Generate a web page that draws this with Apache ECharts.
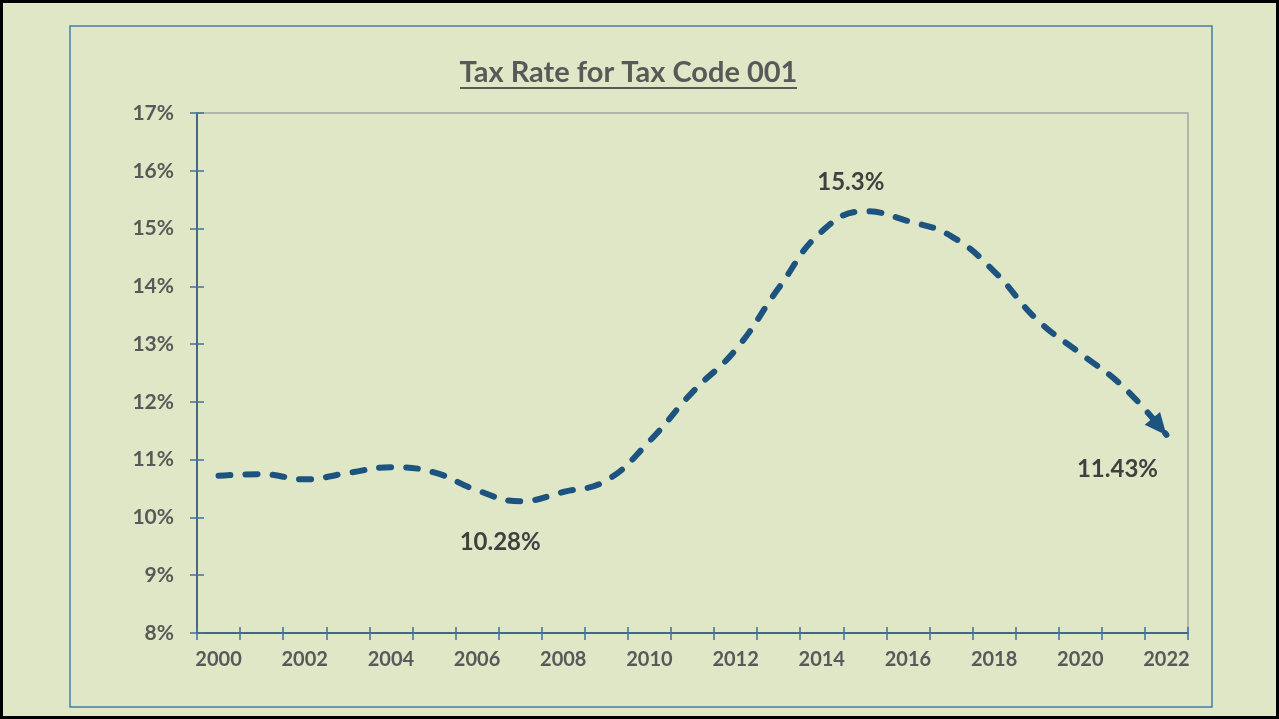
<!DOCTYPE html>
<html>
<head>
<meta charset="utf-8">
<script src="https://cdn.jsdelivr.net/npm/echarts@6/dist/echarts.min.js"></script>
<style>
  html, body { margin: 0; padding: 0; background: #DFE7C6; }
  #main { width: 1279px; height: 719px; }
</style>
</head>
<body>
<div id="main"></div>
<script>
// years and tax rate (%)
var years = ['2000','2001','2002','2003','2004','2005','2006','2007','2008','2009','2010',
             '2011','2012','2013','2014','2015','2016','2017','2018','2019','2020','2021','2022'];
var rates = [10.72, 10.75, 10.66, 10.77, 10.87, 10.78, 10.47, 10.28, 10.44, 10.64, 11.32,
             12.17, 12.90, 13.97, 14.95, 15.30, 15.13, 14.87, 14.26, 13.42, 12.84, 12.26, 11.43];

var lineColor = '#1D547F';
var textColor = '#595959';
var font = 'Lato';

var myChart = echarts.init(document.getElementById('main'));

var seriesData = rates.map(function (v, i) {
    var item = { value: v };
    if (years[i] === '2007') {
        item.label = { show: true, position: 'inside', offset: [-20, 41], formatter: v.toFixed(2) + '%' };
    }
    if (years[i] === '2015') {
        item.label = { show: true, position: 'inside', offset: [-14, -29], formatter: v.toFixed(1) + '%' };
    }
    if (years[i] === '2022') {
        item.symbol = 'triangle';
        item.symbolSize = [20, 22];
        item.symbolRotate = -140;
        item.symbolOffset = [-7, -8];
        item.itemStyle = { color: lineColor, opacity: 1 };
        item.label = { show: true, position: 'inside', offset: [-42, 42], formatter: v.toFixed(2) + '%' };
    }
    return item;
});

var option = {
    backgroundColor: '#DFE7C6',
    animation: false,
    graphic: [
        { type: 'rect', shape: { x: 1.5, y: 1.5, width: 1276, height: 716 },
          style: { fill: 'none', stroke: '#000', lineWidth: 3 } },
        { type: 'rect', shape: { x: 70, y: 26, width: 1142, height: 681 },
          style: { fill: 'none', stroke: '#4A7DA6', lineWidth: 1.5 } },
        // title, underlined
        { type: 'text', x: 628.5, y: 73,
          style: { text: 'Tax Rate for Tax Code 001', fill: textColor, font: 'bold 29px Lato',
                   textAlign: 'center', textVerticalAlign: 'middle' } },
        { type: 'line', shape: { x1: 460, y1: 88, x2: 797, y2: 88 },
          style: { stroke: textColor, lineWidth: 2 } }
    ],
    grid: {
        left: 197, right: 91, top: 113, bottom: 86,
        show: true, borderColor: '#A6A6A6', borderWidth: 1.5, backgroundColor: 'transparent'
    },
    xAxis: [{
        type: 'category',
        data: years,
        boundaryGap: true,
        axisLine: { lineStyle: { color: '#1F4E79', width: 1.5 } },
        axisTick: { show: true, interval: 0, length: 7, lineStyle: { color: '#41719C', width: 1.5 } },
        axisLabel: { interval: 1, margin: 17, color: textColor, fontFamily: font, fontWeight: 'bold', fontSize: 20 },
        splitLine: { show: false }
    }, {
        type: 'category',
        data: years,
        position: 'bottom',
        boundaryGap: true,
        axisLine: { show: false },
        axisTick: { show: true, inside: true, interval: 0, length: 6, lineStyle: { color: '#41719C', width: 1.5 } },
        axisLabel: { show: false },
        splitLine: { show: false }
    }],
    yAxis: [{
        type: 'value',
        min: 8, max: 17, interval: 1,
        axisLine: { show: true, lineStyle: { color: '#1F4E79', width: 1.5 } },
        axisTick: { show: true, length: 7, lineStyle: { color: '#41719C', width: 1.5 } },
        axisLabel: { formatter: '{value}%', margin: 23, color: textColor, fontFamily: font, fontWeight: 'bold', fontSize: 21 },
        splitLine: { show: false }
    }, {
        type: 'value',
        position: 'left',
        min: 8, max: 17, interval: 1,
        axisLine: { show: false },
        axisTick: { show: true, inside: true, length: 7, lineStyle: { color: '#41719C', width: 1.5 } },
        axisLabel: { show: false },
        splitLine: { show: false }
    }],
    series: [{
        name: 'Tax Rate',
        type: 'line',
        data: seriesData,
        smooth: 0.45,
        symbol: 'circle',
        symbolSize: 0,
        showSymbol: true,
        showAllSymbol: true,
        itemStyle: { color: lineColor },
        lineStyle: { color: lineColor, width: 6, type: [12, 15], cap: 'round' },
        label: { color: '#404040', fontFamily: font, fontWeight: 'bold', fontSize: 24 }
    }]
};
myChart.setOption(option);
</script>
</body>
</html>
